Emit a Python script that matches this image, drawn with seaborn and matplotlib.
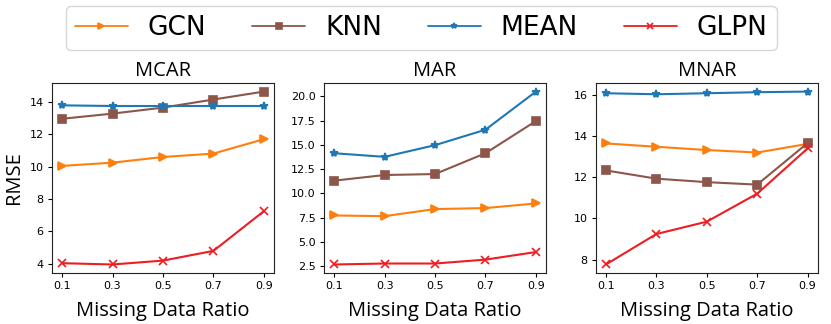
import numpy as np
import pandas as pd
import matplotlib; matplotlib.use('Agg')
import matplotlib.pyplot as plt
from matplotlib.font_manager import FontProperties
import seaborn as sns

sns.set_theme(style='ticks')
plt.rcParams['font.family'] = ['DejaVu Sans']
plt.rcParams.update({'text.color': 'black', 'axes.labelcolor': 'black',
                     'xtick.color': 'black', 'ytick.color': 'black',
                     'axes.edgecolor': '#222222'})

# ===== data =====
ratios = [0.1, 0.3, 0.5, 0.7, 0.9]
methods = ['GCN', 'KNN', 'MEAN', 'GLPN']

mcar_gcn = [10.05, 10.25, 10.6, 10.81, 11.7]
mcar_knn = [12.96, 13.28, 13.65, 14.15, 14.64]
mcar_mean = [13.79, 13.75, 13.75, 13.75, 13.75]
mcar_glpn = [4.04, 3.96, 4.2, 4.8, 7.25]

mar_gcn = [7.74, 7.67, 8.4, 8.5, 8.98]
mar_knn = [11.32, 11.9, 12.0, 14.14, 17.45]
mar_mean = [14.14, 13.77, 14.97, 16.56, 20.48]
mar_glpn = [2.7, 2.8, 2.8, 3.2, 3.98]

mnar_gcn = [13.64, 13.48, 13.32, 13.2, 13.62]
mnar_knn = [12.33, 11.93, 11.76, 11.64, 13.66]
mnar_mean = [16.08, 16.03, 16.08, 16.13, 16.16]
mnar_glpn = [7.76, 9.24, 9.84, 11.2, 13.4]

panels = {
    'MCAR': [mcar_gcn, mcar_knn, mcar_mean, mcar_glpn],
    'MAR': [mar_gcn, mar_knn, mar_mean, mar_glpn],
    'MNAR': [mnar_gcn, mnar_knn, mnar_mean, mnar_glpn],
}

palette = {'GCN': '#ff7f0e', 'KNN': '#8c564b', 'MEAN': '#1f77b4', 'GLPN': '#ee1d23'}
markers = {'GCN': '>', 'KNN': 's', 'MEAN': '*', 'GLPN': 'x'}

fig = plt.figure(figsize=(8.31, 3.24), dpi=100)
lefts = [0.0626, 0.390, 0.717]
width = 0.267
label_font = FontProperties(family='Open Sans', size=14.5)

for i, (name, series) in enumerate(panels.items()):
    ax = fig.add_axes([lefts[i], 0.157, width, 0.587])
    for m, vals in zip(methods, series):
        sns.lineplot(x=ratios, y=vals, color=palette[m], marker=markers[m],
                     markersize=6, markeredgewidth=1.2, markeredgecolor=palette[m],
                     lw=1.5, ax=ax, label=m)
    ax.set_xticks(ratios)
    ax.set_xticklabels([str(r) for r in ratios])
    ax.tick_params(labelsize=8, length=3, width=0.8, pad=3)
    ax.set_title(name, fontproperties=label_font, pad=5)
    ax.set_xlabel('Missing Data Ratio', fontproperties=label_font, labelpad=7)
    ax.set_ylabel('RMSE' if i == 0 else '', fontproperties=label_font, labelpad=4)
    for s in ax.spines.values():
        s.set_linewidth(0.8)
    handles, labels = ax.get_legend_handles_labels()
    ax.get_legend().remove()

leg = fig.legend(handles, labels, loc='center', bbox_to_anchor=(0.507, 0.914), ncol=4,
                 prop=FontProperties(family='DejaVu Sans', size=19),
                 handlelength=2.0, columnspacing=1.75, handletextpad=0.75,
                 frameon=True, fancybox=True, borderpad=0.35)
for h in leg.legend_handles:
    h.set_markersize(4)
    h.set_linewidth(1.3)

plt.savefig('out.png', dpi=100)
